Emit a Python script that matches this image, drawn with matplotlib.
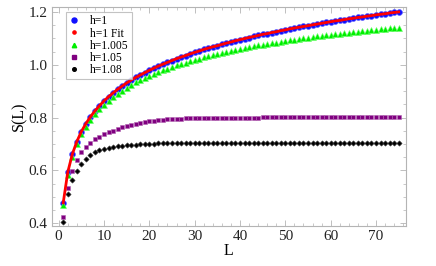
from __future__ import annotations

import matplotlib

matplotlib.use("Agg")

from matplotlib import pyplot as plt
from matplotlib.lines import Line2D
from matplotlib.ticker import FormatStrFormatter, MultipleLocator

# subsystem sizes
L = list(range(1, 76))

s_h1 = [
    0.477, 0.593, 0.661, 0.709, 0.747, 0.777, 0.803, 0.825, 0.845, 0.863,
    0.879, 0.893, 0.907, 0.919, 0.931, 0.942, 0.952, 0.961, 0.970, 0.979,
    0.987, 0.995, 1.002, 1.009, 1.016, 1.023, 1.029, 1.035, 1.041, 1.047,
    1.052, 1.058, 1.063, 1.068, 1.072, 1.077, 1.082, 1.086, 1.091, 1.095,
    1.099, 1.103, 1.107, 1.111, 1.115, 1.118, 1.122, 1.125, 1.129, 1.132,
    1.136, 1.139, 1.142, 1.145, 1.148, 1.151, 1.154, 1.157, 1.160, 1.163,
    1.166, 1.168, 1.171, 1.174, 1.176, 1.179, 1.181, 1.184, 1.186, 1.189,
    1.191, 1.193, 1.196, 1.198, 1.200,
]

s_h1_fit = [
    0.477, 0.593, 0.661, 0.709, 0.747, 0.777, 0.803, 0.825, 0.845, 0.863,
    0.879, 0.893, 0.907, 0.919, 0.931, 0.942, 0.952, 0.961, 0.970, 0.979,
    0.987, 0.995, 1.002, 1.009, 1.016, 1.023, 1.029, 1.035, 1.041, 1.047,
    1.052, 1.058, 1.063, 1.068, 1.072, 1.077, 1.082, 1.086, 1.091, 1.095,
    1.099, 1.103, 1.107, 1.111, 1.115, 1.118, 1.122, 1.125, 1.129, 1.132,
    1.136, 1.139, 1.142, 1.145, 1.148, 1.151, 1.154, 1.157, 1.160, 1.163,
    1.166, 1.168, 1.171, 1.174, 1.176, 1.179, 1.181, 1.184, 1.186, 1.189,
    1.191, 1.193, 1.196, 1.198, 1.200,
]

s_h1005 = [
    0.469, 0.584, 0.652, 0.699, 0.736, 0.766, 0.791, 0.812, 0.831, 0.849,
    0.864, 0.877, 0.891, 0.902, 0.913, 0.924, 0.933, 0.941, 0.949, 0.958,
    0.965, 0.972, 0.979, 0.985, 0.991, 0.998, 1.003, 1.008, 1.013, 1.019,
    1.023, 1.028, 1.033, 1.037, 1.040, 1.045, 1.049, 1.052, 1.056, 1.060,
    1.063, 1.066, 1.070, 1.073, 1.076, 1.079, 1.082, 1.084, 1.087, 1.090,
    1.093, 1.095, 1.098, 1.100, 1.102, 1.105, 1.107, 1.109, 1.111, 1.114,
    1.116, 1.117, 1.120, 1.122, 1.123, 1.125, 1.127, 1.129, 1.130, 1.133,
    1.134, 1.135, 1.138, 1.139, 1.140,
]

s_h105 = [
    0.425, 0.535, 0.597, 0.640, 0.668, 0.688, 0.704, 0.717, 0.727, 0.737,
    0.744, 0.751, 0.757, 0.763, 0.768, 0.772, 0.776, 0.780, 0.783, 0.786,
    0.788, 0.790, 0.792, 0.793, 0.794, 0.795, 0.796, 0.797, 0.797, 0.798,
    0.798, 0.799, 0.799, 0.799, 0.799, 0.799, 0.799, 0.799, 0.799, 0.799,
    0.799, 0.799, 0.799, 0.799, 0.801, 0.801, 0.801, 0.801, 0.801, 0.801,
    0.801, 0.801, 0.801, 0.801, 0.801, 0.801, 0.801, 0.801, 0.801, 0.801,
    0.801, 0.801, 0.801, 0.801, 0.801, 0.801, 0.801, 0.801, 0.801, 0.801,
    0.801, 0.801, 0.801, 0.801, 0.801,
]

s_h108 = [
    0.403, 0.510, 0.564, 0.597, 0.624, 0.643, 0.657, 0.668, 0.676, 0.682,
    0.686, 0.689, 0.691, 0.693, 0.695, 0.697, 0.698, 0.699, 0.700, 0.701,
    0.701, 0.702, 0.702, 0.702, 0.703, 0.703, 0.703, 0.703, 0.703, 0.703,
    0.704, 0.704, 0.704, 0.704, 0.704, 0.704, 0.704, 0.704, 0.704, 0.704,
    0.704, 0.704, 0.704, 0.704, 0.704, 0.704, 0.704, 0.704, 0.704, 0.705,
    0.705, 0.705, 0.705, 0.705, 0.705, 0.705, 0.705, 0.705, 0.705, 0.705,
    0.705, 0.705, 0.705, 0.705, 0.705, 0.705, 0.705, 0.705, 0.705, 0.705,
    0.705, 0.705, 0.705, 0.705, 0.705,
]

legend_labels = ["h=1", "h=1 Fit", "h=1.005", "h=1.05", "h=1.08"]

FRAME = "#b4b4b4"

plt.rcParams["font.family"] = ["Liberation Serif", "DejaVu Serif"]

fig = plt.figure(figsize=(4.36, 2.66), dpi=100)
ax = fig.add_axes([0.119, 0.150, 0.812, 0.824])

ax.plot(L, s_h1, "o", color="#1010ff", ms=4.2, mec="#6060ff", mew=0.5, zorder=3)
ax.plot(L, s_h1005, "^", color="#00ee00", ms=3.8, mec="#70ff70", mew=0.4, zorder=3)
ax.plot(L, s_h105, "s", color="#800080", ms=3.5, mec="#b060b0", mew=0.4, zorder=3)
ax.plot(L, s_h108, "D", color="black", ms=2.7, mec="#404040", mew=0.4, zorder=3)
ax.plot(L, s_h1_fit, "-", color="#ff0000", lw=2.0, zorder=4)

ax.set_xlim(-1.5, 76.6)
ax.set_ylim(0.389, 1.219)
ax.xaxis.set_major_locator(MultipleLocator(10))
ax.xaxis.set_minor_locator(MultipleLocator(2))
ax.yaxis.set_major_locator(MultipleLocator(0.2))
ax.yaxis.set_minor_locator(MultipleLocator(0.05))
ax.yaxis.set_major_formatter(FormatStrFormatter("%.1f"))

for side in ax.spines.values():
    side.set_color(FRAME)
    side.set_linewidth(0.8)
ax.tick_params(which="both", direction="in", color=FRAME, top=True, right=True,
               labelsize=11, labelcolor="#222222", pad=3)
ax.tick_params(which="major", length=4, width=0.6)
ax.tick_params(which="minor", length=2, width=0.5)

ax.set_xlabel("L", fontsize=11.5, labelpad=0)
ax.set_ylabel("S(L)", fontsize=11.5, labelpad=1)

handles = [
    Line2D([], [], ls="", marker="o", color="#1010ff", ms=3.6),
    Line2D([], [], ls="", marker="o", color="#ff0000", ms=2.3),
    Line2D([], [], ls="", marker="^", color="#00ee00", ms=3.2),
    Line2D([], [], ls="", marker="s", color="#800080", ms=3.2),
    Line2D([], [], ls="", marker="o", color="black", ms=2.6),
]
leg = ax.legend(handles, legend_labels, loc="upper left", bbox_to_anchor=(0.04, 0.975),
                fontsize=8.4, frameon=True, fancybox=False, handlelength=0.8,
                handletextpad=1.0, labelspacing=0.02, borderpad=0.25,
                borderaxespad=0.0)
leg.get_frame().set_edgecolor(FRAME)
leg.get_frame().set_linewidth(0.8)

fig.savefig("out.png", dpi=100)
plt.close(fig)
